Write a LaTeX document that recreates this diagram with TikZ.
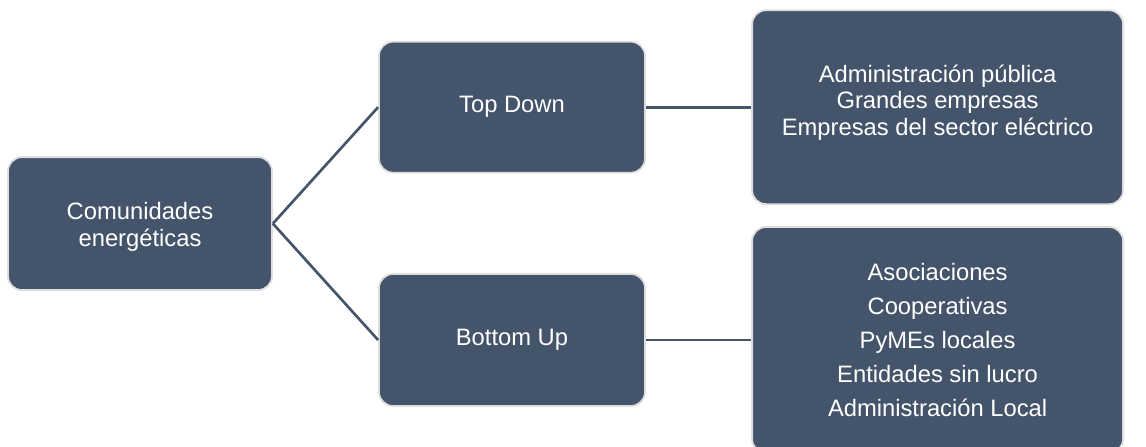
\documentclass[tikz,border=0pt]{standalone}
\usepackage{fontspec}
\setmainfont{Liberation Sans}
\usepackage{xcolor}
\definecolor{slate}{HTML}{44546A}
\definecolor{rim}{HTML}{DEDEDE}

\begin{document}
\begin{tikzpicture}[
  box/.style={draw=rim, line width=1.3pt, fill=slate, rounded corners=0.35cm,
    text=white, align=center, inner sep=0pt,
    font=\fontsize{16.9}{18.9}\selectfont},
  link/.style={draw=slate, line width=1.9pt}
]
  \useasboundingbox (0,0) rectangle (28.65,-11.175);

  % Root of the tree
  \node[box, minimum width=6.6cm, minimum height=3.325cm] (root) at (3.5,-5.59)
    {\rule{0pt}{0.6cm}Comunidades\\energéticas};

  % Second level
  \node[box, minimum width=6.65cm, minimum height=3.275cm] (topdown) at (12.8,-2.68) {Top Down};
  \node[box, minimum width=6.65cm, minimum height=3.3cm] (bottomup) at (12.8,-8.5) {Bottom Up};

  % Actors of each kind
  \node[box, minimum width=9.275cm, minimum height=4.85cm, text depth=0.35cm] (topactors) at (23.44,-2.68)
    {Administración pública\\Grandes empresas\\Empresas del sector eléctrico};
  \node[box, minimum width=9.275cm, minimum height=5.65cm,
    font=\fontsize{16.9}{24.2}\selectfont] (bottomactors) at (23.44,-8.5)
    {Asociaciones\\Cooperativas\\PyMEs locales\\Entidades sin lucro\\Administración Local};

  % Connectors
  \draw[link] (root.east) -- (topdown.west);
  \draw[link] (root.east) -- (bottomup.west);
  \draw[link] (topdown.east) -- (topactors.west);
  \draw[link] (bottomup.east) -- (bottomactors.west);
\end{tikzpicture}
\end{document}
